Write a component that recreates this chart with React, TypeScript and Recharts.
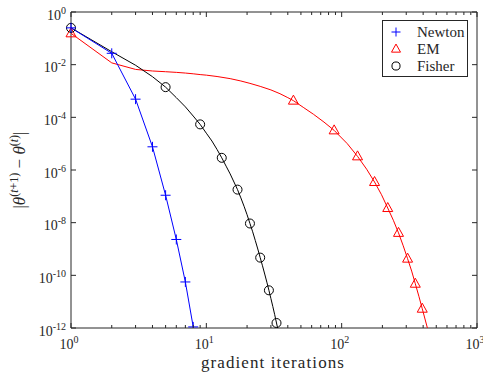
import React from 'react';
import { LineChart, Line, XAxis, YAxis, ReferenceArea, Legend } from 'recharts';

// iterations and |theta(t+1) - theta(t)|
const newtonIter = [1, 2, 3, 4, 5, 6, 7, 8];
const newtonErr = [0.25, 2.7e-2, 4.9e-4, 7.6e-6, 1.1e-7, 2.3e-9, 5.6e-11, 1.1e-12];

const emIter = [
  1, 2, 3, 4, 5, 6, 7, 8, 9, 10, 12, 15, 18, 21, 25, 30, 35, 40, 44, 52, 62, 74, 88,
  110, 131, 153, 175, 197, 219, 241, 263, 285, 307, 329, 350, 372, 394, 430,
];
const emErr = [
  0.155, 1.17e-2, 6.6e-3, 5.75e-3, 5.4e-3, 5.1e-3, 4.8e-3, 4.5e-3, 4.2e-3, 4.0e-3,
  3.55e-3, 2.95e-3, 2.4e-3, 1.95e-3, 1.5e-3, 1.1e-3, 7.9e-4, 5.6e-4, 4.3e-4, 2.4e-4,
  1.3e-4, 6.6e-5, 3.2e-5, 1.0e-5, 3.3e-6, 1.07e-6, 3.5e-7, 1.15e-7, 3.6e-8, 1.23e-8,
  4.1e-9, 1.32e-9, 4.3e-10, 1.45e-10, 4.8e-11, 1.6e-11, 5.4e-12, 1.0e-12,
];
const emMarkIter = [1, 44, 88, 131, 175, 219, 263, 307, 350, 394];

const fisherIter = [
  1, 2, 3, 4, 5, 6, 7, 8, 9, 10, 11, 12, 13, 14, 15, 16, 17, 18, 19, 20, 21, 22, 23, 24,
  25, 26, 27, 28, 29, 30, 31, 32, 33, 34,
];
const fisherErr = [
  0.25, 3.1e-2, 9.5e-3, 3.5e-3, 1.4e-3, 5.6e-4, 2.5e-4, 1.12e-4, 5.4e-5, 2.5e-5, 1.26e-5,
  6.0e-6, 2.9e-6, 1.4e-6, 7.1e-7, 3.5e-7, 1.8e-7, 8.7e-8, 4.2e-8, 2.0e-8, 9.3e-9, 4.5e-9,
  2.1e-9, 1.0e-9, 4.7e-10, 2.3e-10, 1.12e-10, 5.5e-11, 2.7e-11, 1.32e-11, 6.5e-12, 3.2e-12,
  1.55e-12, 7.6e-13,
];
const fisherMarkIter = [1, 5, 9, 13, 17, 21, 25, 29, 33];

const xTicks = [
  1, 2, 3, 4, 5, 6, 7, 8, 9, 10, 20, 30, 40, 50, 60, 70, 80, 90, 100, 200, 300, 400, 500,
  600, 700, 800, 900, 1000,
];
const yTicks = [1, 1e-2, 1e-4, 1e-6, 1e-8, 1e-10, 1e-12];

const seriesNames = ['Newton', 'EM', 'Fisher'];

const W = 483;
const H = 377;
const PLOT_LEFT = 71;
const PLOT_RIGHT = 477;
const PLOT_TOP = 12;
const PLOT_BOTTOM = 328;
const AXIS = '#262626';
const FONT = "'Liberation Serif', 'DejaVu Serif', serif";

type MarkerKind = 'plus' | 'tri' | 'circle';

const build = (xs: number[], ys: number[], marks: number[]) =>
  xs.map((x, i) => ({ x, y: ys[i], mark: marks.includes(x) }));

const newtonData = build(newtonIter, newtonErr, newtonIter);
const emData = build(emIter, emErr, emMarkIter);
const fisherData = build(fisherIter, fisherErr, fisherMarkIter);

const Marker = ({ kind, cx, cy, color, s }: { kind: MarkerKind; cx: number; cy: number; color: string; s: number }) => {
  if (kind === 'plus') {
    return <path d={`M${cx - s},${cy}H${cx + s}M${cx},${cy - s}V${cy + s}`} stroke={color} strokeWidth={1} fill="none" />;
  }
  if (kind === 'tri') {
    return (
      <path
        d={`M${cx},${cy - s * 1.1}L${cx + s},${cy + s * 0.7}L${cx - s},${cy + s * 0.7}Z`}
        stroke={color}
        strokeWidth={1}
        fill="none"
      />
    );
  }
  return <circle cx={cx} cy={cy} r={s * 0.9} stroke={color} strokeWidth={1} fill="none" />;
};

const makeDot = (kind: MarkerKind, color: string) => (props: any) => {
  const { cx, cy, payload, index } = props;
  if (!payload || !payload.mark || cx == null || cy == null) return <g key={`d-${index}`} />;
  return (
    <g key={`d-${index}`}>
      <Marker kind={kind} cx={cx} cy={cy} color={color} s={5} />
    </g>
  );
};

const textStyle = { fontFamily: FONT };

const XTick = (props: any) => {
  const { x, payload } = props;
  const e = Math.log10(payload.value);
  const major = Math.abs(e - Math.round(e)) < 1e-6;
  const len = major ? 5 : 3;
  return (
    <g>
      <line x1={x} x2={x} y1={PLOT_BOTTOM} y2={PLOT_BOTTOM - len} stroke={AXIS} />
      <line x1={x} x2={x} y1={PLOT_TOP} y2={PLOT_TOP + len} stroke={AXIS} />
      {major && (
        <text x={x - 2} y={PLOT_BOTTOM + 21} textAnchor="middle" fontSize={14} fill={AXIS} style={textStyle}>
          10
          <tspan dy={-6} fontSize={10}>{Math.round(e)}</tspan>
        </text>
      )}
    </g>
  );
};

const YTick = (props: any) => {
  const { y, payload } = props;
  const e = Math.round(Math.log10(payload.value));
  return (
    <g>
      <line x1={PLOT_LEFT} x2={PLOT_LEFT + 5} y1={y} y2={y} stroke={AXIS} />
      <line x1={PLOT_RIGHT} x2={PLOT_RIGHT - 5} y1={y} y2={y} stroke={AXIS} />
      <text x={PLOT_LEFT - 5} y={y + 7.5} textAnchor="end" fontSize={14} fill={AXIS} style={textStyle}>
        10
        <tspan dy={-6} fontSize={10}>{e}</tspan>
      </text>
    </g>
  );
};

const XLabel = () => (
  <text x={273} y={368} textAnchor="middle" fontSize={17} letterSpacing={1.1} fill={AXIS} style={textStyle}>
    gradient iterations
  </text>
);

const YLabel = () => (
  <text transform="translate(25,170) rotate(-90)" textAnchor="middle" fontSize={17} fill={AXIS} style={textStyle}>
    |<tspan fontStyle="italic">θ</tspan>
    <tspan dy={-7} fontSize={12}>(</tspan>
    <tspan fontSize={12} fontStyle="italic">t</tspan>
    <tspan fontSize={12}>+1)</tspan>
    <tspan dy={7}> − </tspan>
    <tspan fontStyle="italic">θ</tspan>
    <tspan dy={-7} fontSize={12}>(</tspan>
    <tspan fontSize={12} fontStyle="italic">t</tspan>
    <tspan fontSize={12}>)</tspan>
    <tspan dy={7}>|</tspan>
  </text>
);

const legendItems: { kind: MarkerKind; color: string }[] = [
  { kind: 'plus', color: '#0000ff' },
  { kind: 'tri', color: '#ff0000' },
  { kind: 'circle', color: '#000000' },
];

const LegendBox = () => (
  <svg width={86} height={58} style={{ display: 'block' }}>
    <rect x={0.5} y={0.5} width={85} height={56} fill="#fff" stroke={AXIS} />
    {legendItems.map((it, i) => (
      <g key={seriesNames[i]}>
        <Marker kind={it.kind} cx={14} cy={12 + i * 17} color={it.color} s={4.5} />
        <text x={35} y={17 + i * 17} fontSize={15} fill={AXIS} style={textStyle}>
          {seriesNames[i]}
        </text>
      </g>
    ))}
  </svg>
);

export default function App() {
  return (
    <div style={{ position: 'absolute', left: 0, top: 0, background: '#fff' }}>
      <LineChart width={W} height={H} margin={{ top: PLOT_TOP, right: W - PLOT_RIGHT, bottom: 0, left: 0 }}>
        <XAxis
          type="number"
          dataKey="x"
          scale="log"
          domain={[1, 1000]}
          ticks={xTicks}
          interval={0}
          axisLine={false}
          tickLine={false}
          tick={XTick}
          height={H - PLOT_BOTTOM}
          label={<XLabel />}
        />
        <YAxis
          type="number"
          dataKey="y"
          scale="log"
          domain={[1e-12, 1]}
          ticks={yTicks}
          interval={0}
          allowDataOverflow
          axisLine={false}
          tickLine={false}
          tick={YTick}
          width={PLOT_LEFT}
          label={<YLabel />}
        />
        <ReferenceArea x1={1} x2={1000} y1={1e-12} y2={1} fill="none" stroke={AXIS} strokeWidth={1} />
        <Line
          data={emData}
          dataKey="y"
          name="EM"
          type="linear"
          stroke="#ff0000"
          strokeWidth={1}
          dot={makeDot('tri', '#ff0000')}
          activeDot={false}
          isAnimationActive={false}
        />
        <Line
          data={fisherData}
          dataKey="y"
          name="Fisher"
          type="linear"
          stroke="#000000"
          strokeWidth={1}
          dot={makeDot('circle', '#000000')}
          activeDot={false}
          isAnimationActive={false}
        />
        <Line
          data={newtonData}
          dataKey="y"
          name="Newton"
          type="linear"
          stroke="#0000ff"
          strokeWidth={1}
          dot={makeDot('plus', '#0000ff')}
          activeDot={false}
          isAnimationActive={false}
        />
        <Legend
          content={LegendBox}
          layout="horizontal"
          verticalAlign="middle"
          align="center"
          wrapperStyle={{ left: 382, top: 20, width: 87, height: 58 }}
        />
      </LineChart>
    </div>
  );
}
